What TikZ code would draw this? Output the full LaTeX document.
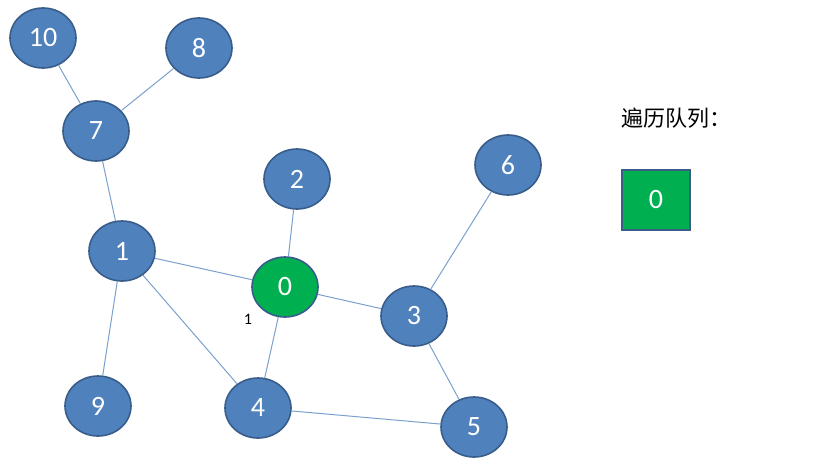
\documentclass[tikz,border=0pt]{standalone}
\usepackage{fontspec}
\setmainfont{Carlito}
\newfontfamily\cjk{Noto Sans CJK SC}
\usetikzlibrary{shapes.geometric}
\definecolor{nodeblue}{HTML}{4F81BD}
\definecolor{nodeedge}{HTML}{385D8A}
\definecolor{visited}{HTML}{00B050}
\definecolor{linkblue}{HTML}{7BA0CD}
\begin{document}
\begin{tikzpicture}[x=0.5pt,y=-0.5pt]
\useasboundingbox (0,0) rectangle (838,466);
\begin{scope}[every node/.style={ellipse,draw=nodeedge,thick,fill=nodeblue,text=white,minimum width=33pt,minimum height=30pt,inner sep=0pt,font=\fontsize{14}{16}\selectfont}]
    \node (n10) at (43,38) {10};
    \node (n8) at (199,48) {8};
    \node (n7) at (96,131) {7};
    \node (n2) at (297,179) {2};
    \node (n6) at (508,165) {6};
    \node (n1) at (122,251) {1};
    \node[fill=visited] (n0) at (285,287) {0};
    \node (n3) at (414,316) {3};
    \node (n9) at (98,406) {9};
    \node (n4) at (258,408) {4};
    \node (n5) at (474,427) {5};
\end{scope}

\begin{scope}[linkblue,line width=0.5pt]
    \draw (n10) -- (n7);
    \draw (n8) -- (n7);
    \draw (n7) -- (n1);
    \draw (n1) -- (n0);
    \draw (n1) -- (n9);
    \draw (n1) -- (n4);
    \draw (n2) -- (n0);
    \draw (n0) -- (n3);
    \draw (n0) -- (n4);
    \draw (n6) -- (n3);
    \draw (n3) -- (n5);
    \draw (n4) -- (n5);
\end{scope}

\node[font=\fontsize{8}{9}\selectfont] (lbl) at (248,319) {1};
\node[font=\cjk\fontsize{11}{13}\selectfont] (title) at (676,118) {遍历队列：};
\node[draw=nodeedge,thick,fill=visited,text=white,minimum width=34pt,minimum height=30pt,font=\fontsize{14}{16}\selectfont] (q0) at (656,200) {0};
\end{tikzpicture}
\end{document}
